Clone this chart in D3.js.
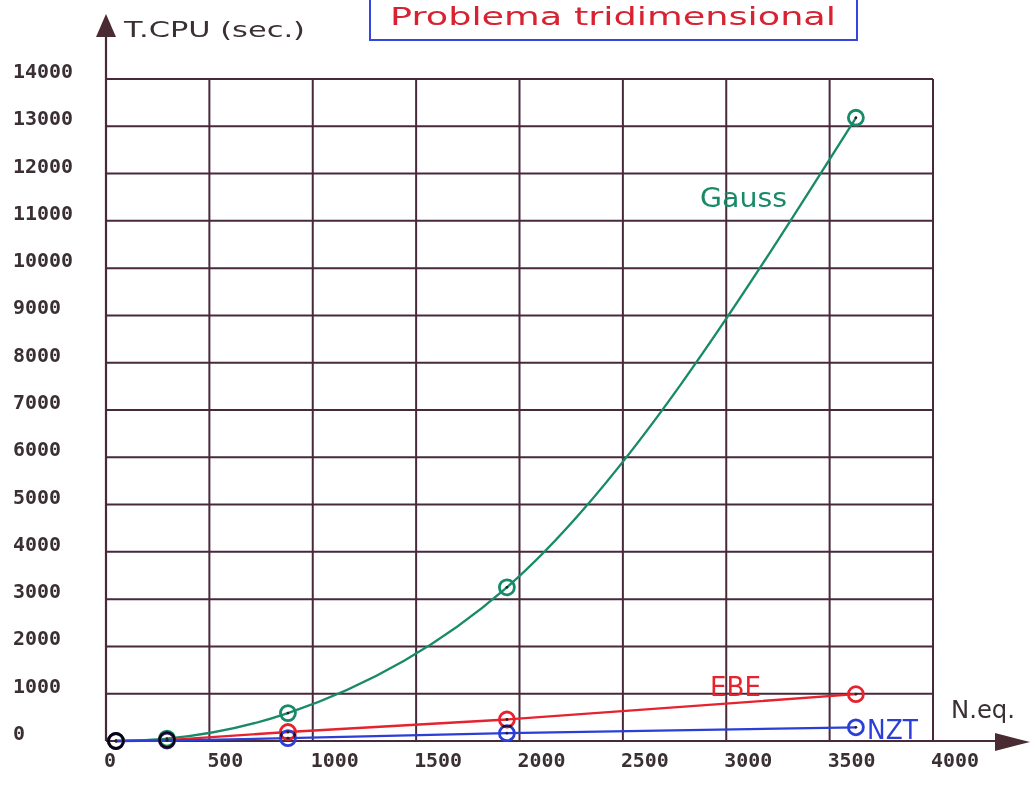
<!DOCTYPE html>
<html>
<head>
<meta charset="utf-8">
<script src="https://cdn.jsdelivr.net/npm/d3@7/dist/d3.min.js"></script>
<style>
  html, body { margin: 0; padding: 0; background: #ffffff; }
  svg { display: block; }
</style>
</head>
<body>
<svg id="chart" width="1032" height="787"></svg>
<script>
// ---- data ----
const nEq   = [48, 295, 880, 1939, 3627];
const gauss = [0, 50, 590, 3250, 13180];
const ebe   = [0, 20, 190, 455, 990];
const nzt   = [0, 10, 60, 165, 290];

const xTicks = [0, 500, 1000, 1500, 2000, 2500, 3000, 3500, 4000];
const yTicks = [0, 1000, 2000, 3000, 4000, 5000, 6000, 7000, 8000, 9000, 10000, 11000, 12000, 13000, 14000];

const seriesNames = ["Gauss", "EBE", "NZT"];
const titleText = "Problema  tridimensional";
const yAxisTitle = "T.CPU (sec.)";
const xAxisTitle = "N.eq.";

// ---- layout ----
const svg = d3.select("#chart");
const x = d3.scaleLinear().domain([0, 4000]).range([106, 933]);
const y = d3.scaleLinear().domain([0, 14000]).range([741, 79]);

const gridColor = "#47293a";
const textDark = "#3a2f34";
const colors = { Gauss: "#188a68", EBE: "#e5222e", NZT: "#2b3fd6" };

// grid
const grid = svg.append("g");
grid.selectAll("line.h").data(yTicks.filter(d => d > 0)).join("line")
  .attr("x1", x(0)).attr("x2", x(4000))
  .attr("y1", d => y(d)).attr("y2", d => y(d))
  .attr("stroke", gridColor).attr("stroke-width", 2);
grid.selectAll("line.v").data(xTicks.filter(d => d > 0)).join("line")
  .attr("x1", d => x(d)).attr("x2", d => x(d))
  .attr("y1", y(0)).attr("y2", y(14000))
  .attr("stroke", gridColor).attr("stroke-width", 2);

// axes with arrows
svg.append("line").attr("x1", x(0)).attr("x2", 1000).attr("y1", y(0)).attr("y2", y(0))
  .attr("stroke", gridColor).attr("stroke-width", 2.2);
svg.append("line").attr("x1", x(0)).attr("x2", x(0)).attr("y1", y(0)).attr("y2", 30)
  .attr("stroke", gridColor).attr("stroke-width", 2.2);
svg.append("path")
  .attr("d", `M${x(0)},14 L${x(0) - 10},37 L${x(0) + 10},37 Z`)
  .attr("fill", "#4a2a33");
svg.append("path")
  .attr("d", `M1030,${y(0) + 1} L995,${y(0) - 8} L995,${y(0) + 10} Z`)
  .attr("fill", "#4a2a33");

// tick labels
svg.append("g").selectAll("text").data(yTicks).join("text")
  .attr("x", 13).attr("y", d => y(d) - 1)
  .attr("font-family", "DejaVu Sans Mono").attr("font-size", 20).attr("font-weight", "bold")
  .attr("textLength", d => String(d).length * 12).attr("lengthAdjust", "spacingAndGlyphs")
  .attr("fill", textDark).text(d => d);
svg.append("g").selectAll("text").data(xTicks).join("text")
  .attr("x", d => x(d) - 2).attr("y", 767)
  .attr("font-family", "DejaVu Sans Mono").attr("font-size", 20).attr("font-weight", "bold")
  .attr("textLength", d => String(d).length * 12).attr("lengthAdjust", "spacingAndGlyphs")
  .attr("fill", textDark).text(d => d);

// axis titles
svg.append("text").attr("x", 124).attr("y", 37)
  .attr("font-family", "DejaVu Sans").attr("font-size", 22)
  .attr("textLength", 181).attr("lengthAdjust", "spacingAndGlyphs")
  .attr("fill", textDark).text(yAxisTitle);
svg.append("text").attr("x", 951).attr("y", 718)
  .attr("font-family", "DejaVu Sans").attr("font-size", 24)
  .attr("textLength", 64).attr("lengthAdjust", "spacingAndGlyphs")
  .attr("fill", textDark).text(xAxisTitle);

// title box
svg.append("rect").attr("x", 370).attr("y", -10).attr("width", 487).attr("height", 50)
  .attr("fill", "none").attr("stroke", "#3446e0").attr("stroke-width", 2);
svg.append("text").attr("x", 390).attr("y", 25)
  .attr("font-family", "DejaVu Sans").attr("font-size", 25)
  .attr("textLength", 446).attr("lengthAdjust", "spacingAndGlyphs")
  .attr("fill", "#d82232").text(titleText);

// series
const seriesData = [
  { name: "Gauss", values: gauss, curve: d3.curveMonotoneX },
  { name: "EBE", values: ebe, curve: d3.curveLinear },
  { name: "NZT", values: nzt, curve: d3.curveLinear }
];

const line = d3.line().x(d => x(d[0])).y(d => y(d[1]));
seriesData.forEach(s => {
  const pts = nEq.map((n, i) => [n, s.values[i]]);
  svg.append("path").datum(pts)
    .attr("d", line.curve(s.curve))
    .attr("fill", "none").attr("stroke", colors[s.name]).attr("stroke-width", 2.3);
});

const marks = svg.append("g").style("isolation", "isolate");
seriesData.forEach(s => {
  const pts = nEq.map((n, i) => [n, s.values[i]]);
  marks.append("g").selectAll("circle").data(pts).join("circle")
    .attr("cx", d => x(d[0])).attr("cy", d => y(d[1])).attr("r", 7.5)
    .attr("fill", "none").attr("stroke", colors[s.name]).attr("stroke-width", 2.8)
    .style("mix-blend-mode", "multiply");
});
seriesData.forEach(s => {
  const pts = nEq.map((n, i) => [n, s.values[i]]);
  svg.append("g").selectAll("circle").data(pts).join("circle")
    .attr("cx", d => x(d[0])).attr("cy", d => y(d[1])).attr("r", 1.4)
    .attr("fill", "#222");
});

// series labels
svg.append("text").attr("x", 700).attr("y", 207)
  .attr("font-family", "DejaVu Sans").attr("font-size", 27)
  .attr("textLength", 87).attr("lengthAdjust", "spacingAndGlyphs")
  .attr("fill", colors.Gauss).text(seriesNames[0]);
svg.append("text").attr("x", 710).attr("y", 696)
  .attr("font-family", "DejaVu Sans").attr("font-size", 27)
  .attr("textLength", 51).attr("lengthAdjust", "spacingAndGlyphs")
  .attr("fill", colors.EBE).text(seriesNames[1]);
svg.append("text").attr("x", 867).attr("y", 739)
  .attr("font-family", "DejaVu Sans").attr("font-size", 26)
  .attr("textLength", 51).attr("lengthAdjust", "spacingAndGlyphs")
  .attr("fill", colors.NZT).text(seriesNames[2]);
</script>
</body>
</html>
